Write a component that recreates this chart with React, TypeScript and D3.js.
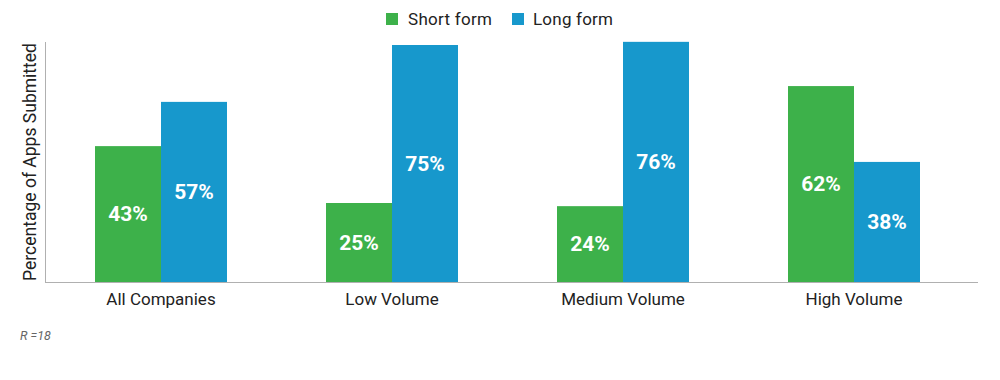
import React from "react";
import * as d3 from "d3";

const categories = ["All Companies", "Low Volume", "Medium Volume", "High Volume"];
const seriesNames = ["Short form", "Long form"];
const shortForm = [43, 25, 24, 62];
const longForm = [57, 75, 76, 38];
const colors = ["#3db14a", "#1798cc"];

export default function App() {
  const W = 1000, H = 380;
  const baseY = 282;
  const x0 = d3.scaleBand<string>().domain(categories).range([45.5, 969.5]).padding(0);
  const x1 = d3.scaleBand<string>().domain(seriesNames).range([0, 132]);
  const y = d3.scaleLinear().domain([0, 100]).range([baseY, -34]);
  const series = [shortForm, longForm];
  const font = "Roboto, 'Noto Sans', sans-serif";

  return (
    <svg width={W} height={H} style={{ position: "absolute", left: 0, top: 0 }} fontFamily={font}>
      <rect width={W} height={H} fill="#fff" />
      {/* legend */}
      <g>
        <rect x={386} y={13} width={12} height={12} fill={colors[0]} />
        <text x={408} y={25} fontSize={17} fill="#222" textLength={84}>{seriesNames[0]}</text>
        <rect x={512} y={13} width={12} height={12} fill={colors[1]} />
        <text x={533} y={25} fontSize={17} fill="#222" textLength={80}>{seriesNames[1]}</text>
      </g>
      {/* bars */}
      {categories.map((c, i) => {
        const cx = x0(c)! + x0.bandwidth() / 2 - 66;
        return (
          <g key={c}>
            {seriesNames.map((s, j) => {
              const v = series[j][i];
              const bx = cx + x1(s)!;
              const top = y(v);
              return (
                <g key={s}>
                  <rect x={bx} y={top} width={x1.bandwidth()} height={baseY - top} fill={colors[j]} />
                  <text
                    x={bx + x1.bandwidth() / 2}
                    y={(top + baseY) / 2}
                    dy="0.35em"
                    textAnchor="middle"
                    fontSize={21}
                    fontWeight={700}
                    fill="#fff"
                  >
                    {v}%
                  </text>
                </g>
              );
            })}
            <text x={x0(c)! + x0.bandwidth() / 2} y={305} textAnchor="middle" fontSize={17} fill="#222">
              {c}
            </text>
          </g>
        );
      })}
      {/* axes */}
      <line x1={45.5} x2={45.5} y1={42} y2={baseY} stroke="#b0b0b0" strokeWidth={1} />
      <line x1={45} x2={978} y1={baseY + 0.5} y2={baseY + 0.5} stroke="#b0b0b0" strokeWidth={1} />
      <text
        transform={`translate(36, 162) rotate(-90)`}
        textAnchor="middle"
        fontSize={17.5}
        fill="#222"
        textLength={238}
      >
        Percentage of Apps Submitted
      </text>
      <text x={20} y={340} fontSize={12.5} fontStyle="italic" fill="#666">R =18</text>
    </svg>
  );
}
